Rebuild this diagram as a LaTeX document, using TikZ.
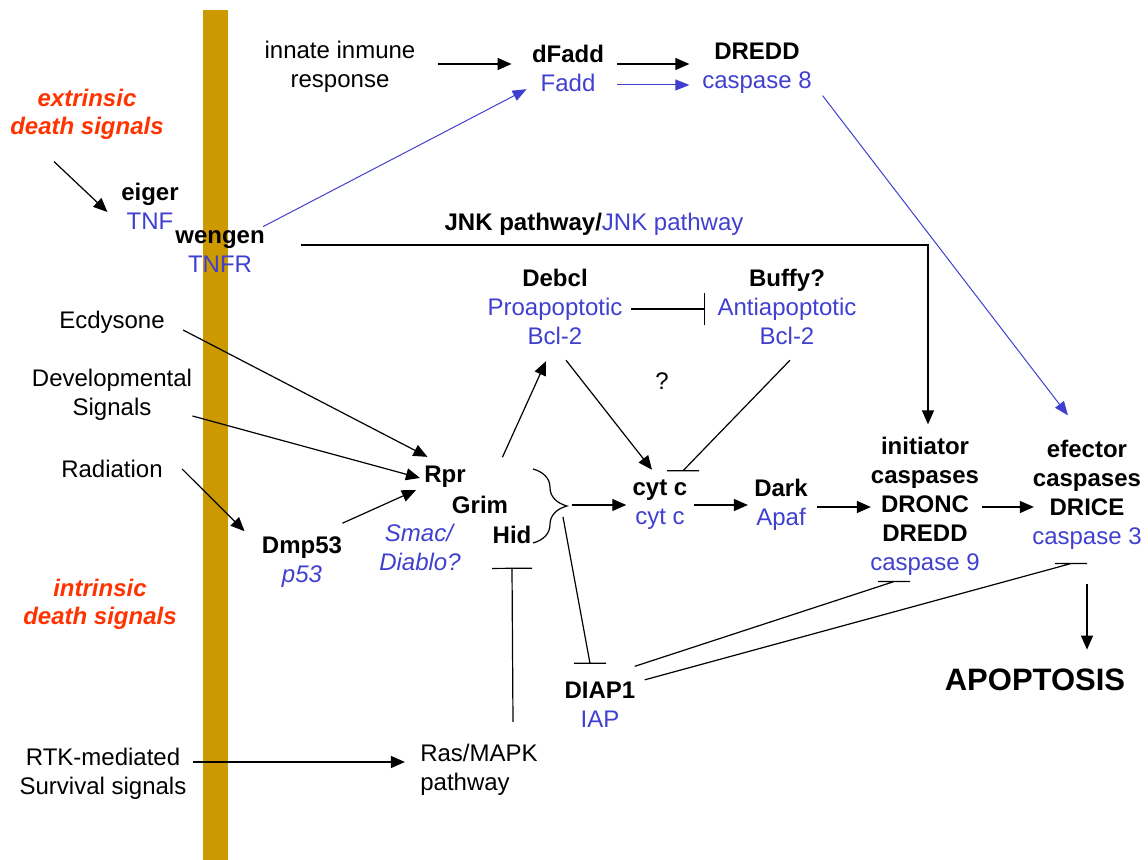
\documentclass[tikz,border=0pt]{standalone}
\usepackage{fontspec}
\setmainfont{Liberation Sans}
\usepackage{xcolor}
\usetikzlibrary{arrows.meta,decorations.pathreplacing}
\definecolor{blu}{RGB}{64,64,208}
\definecolor{sigred}{RGB}{255,51,0}
\definecolor{membrane}{RGB}{204,153,0}
\newcommand{\bt}[1]{\textcolor{blu}{#1}}

\begin{document}
\begin{tikzpicture}[x=0.5pt,y=-0.5pt]
\tikzstyle{lbl}=[align=center, inner sep=1pt, font=\fontsize{12}{14.5}\selectfont]
\tikzstyle{sig}=[align=center, inner sep=1pt, text=sigred, font=\fontsize{12}{14}\selectfont\bfseries\itshape]
\tikzstyle{act}=[line width=0.6pt, -{Triangle[length=7pt,width=6pt]}]
\tikzstyle{bact}=[draw=blu, line width=0.5pt, -{Triangle[length=7pt,width=5.5pt]}]
\tikzstyle{inh}=[line width=0.6pt, -{Bar[width=16pt]}]
\tikzstyle{inhln}=[line width=0.6pt]
\useasboundingbox (0,0) rectangle (1148,860);
% membrane
\fill[membrane] (203,10) rectangle (228,860);

\node[sig] (extr) at (87,114) {extrinsic\\death signals};
\node[sig] (intr) at (100,604) {intrinsic\\death signals};

\node[lbl] (eiger) at (150,206) {\textbf{eiger}\\\bt{TNF}};
\node[lbl] (wengen) at (220,252) {\textbf{wengen}\\\bt{TNFR}};
\node[lbl] (innate) at (340,67) {innate inmune\\response};
\node[lbl] (dfadd) at (568,68) {\textbf{dFadd}\\\bt{Fadd}};
\node[lbl] (dredd) at (757,68) {\textbf{DREDD}\\\bt{caspase 8}};
\node[lbl] (jnk) at (594,224) {\textbf{JNK pathway/}\bt{JNK pathway}};

\node[lbl] (ecdysone) at (112,322) {Ecdysone};
\node[lbl] (develop) at (112,395) {Developmental\\Signals};
\node[lbl] (radiation) at (112,469) {Radiation};
\node[lbl] (dmp53) at (302,562) {\textbf{Dmp53}\\\bt{\textit{p53}}};
\node[lbl] (rpr) at (445,477) {\textbf{Rpr}};
\node[lbl] (grim) at (480,505) {\textbf{Grim}};
\node[lbl] (hid) at (512,535) {\textbf{Hid}};
\node[lbl] (smac) at (420,547) {\bt{\textit{Smac/}}\\\bt{\textit{Diablo?}}};

\node[lbl] (debcl) at (555,307) {\textbf{Debcl}\\\bt{Proapoptotic}\\\bt{Bcl-2}};
\node[lbl] (buffy) at (787,307) {\textbf{Buffy?}\\\bt{Antiapoptotic}\\\bt{Bcl-2}};
\node[lbl] (qmark) at (662,381) {?};
\node[lbl] (cytc) at (660,505) {\textbf{cyt c}\\\bt{cyt c}};
\node[lbl] (dark) at (781,505) {\textbf{Dark}\\\bt{Apaf}};
\node[lbl] (init) at (925,506) {\textbf{initiator}\\\textbf{caspases}\\\textbf{DRONC}\\\textbf{DREDD}\\\bt{caspase 9}};
\node[lbl] (efec) at (1087,495) {\textbf{efector}\\\textbf{caspases}\\\textbf{DRICE}\\\bt{caspase 3}};
\node[lbl, font=\fontsize{15.5}{18}\selectfont\bfseries] (apop) at (1035,680) {APOPTOSIS};
\node[lbl] (diap1) at (600,705) {\textbf{DIAP1}\\\bt{IAP}};

\node[lbl] (rtk) at (103,774) {RTK-mediated\\Survival signals};
\node[lbl, align=left] (rasmapk) at (479,770) {Ras/MAPK\\pathway};

% Rpr/Grim/Hid brace
\draw[line width=0.6pt, decorate, decoration={brace, amplitude=17pt}] (533,469) -- (533,543);
\coordinate (tip) at (572,505);

% extrinsic
\draw[act] ([xshift=-16.5pt,yshift=-10pt]extr.south) -- ([xshift=-5.75pt,yshift=-3pt]eiger.west);
\draw[bact] ([xshift=-2pt,yshift=1pt]wengen.north east) -- ([xshift=-1.5pt,yshift=2.25pt]dfadd.south west);
\draw[act] ([xshift=10pt,yshift=1.5pt]innate.east) -- ([xshift=-9pt,yshift=2pt]dfadd.west);
\draw[act] ([xshift=5.5pt,yshift=2pt]dfadd.east) -- ([xshift=-5.25pt,yshift=2pt]dredd.west);
\draw[bact] ([xshift=5.5pt,yshift=-8.5pt]dfadd.east) -- ([xshift=-5.25pt,yshift=-8.5pt]dredd.west);
\draw[bact] ([xshift=4.25pt]dredd.south east) -- ([xshift=-9.5pt,yshift=11.25pt]efec.north);
\draw[act] ([xshift=17pt,yshift=3.5pt]wengen.east) -| ([xshift=1.5pt,yshift=5pt]init.north);

% intrinsic
\draw[act] ([xshift=8pt,yshift=-4pt]ecdysone.east) -- ([xshift=2.75pt,yshift=3.5pt]rpr.north west);
\draw[act] ([xshift=-1pt,yshift=-10.5pt]develop.east) -- ([xshift=-1pt,yshift=-0.5pt]rpr.west);
\draw[act] ([xshift=8.5pt]radiation.east) -- ([xshift=-7.5pt,yshift=1.5pt]dmp53.north west);
\draw[act] ([xshift=-1pt,yshift=5.5pt]dmp53.north east) -- ([xshift=-3pt]rpr.south west);

% Bcl-2 family
\draw[act] ([xshift=-4pt,yshift=18.25pt]grim.north east) -- ([xshift=-4.5pt,yshift=-7pt]debcl.south);
\draw[act] ([xshift=5.5pt,yshift=-6.5pt]debcl.south) -- ([xshift=-4pt,yshift=4pt]cytc.north);
\draw[inh] ([xshift=3pt,yshift=-1pt]debcl.east) -- ([xshift=-5pt,yshift=-1pt]buffy.west);
\draw[inhln] ([xshift=1.5pt,yshift=-6.5pt]buffy.south) -- ([xshift=11.5pt,yshift=3.5pt]cytc.north) +(-16,0) -- +(16,0);

% caspase cascade
\draw[act] (tip) -- ([xshift=-2pt]cytc.west);
\draw[act] ([xshift=2pt]cytc.east) -- ([xshift=-2pt]dark.west);
\draw[act] ([xshift=3.5pt,yshift=-1pt]dark.east) -- ([xshift=1.5pt,yshift=-0.5pt]init.west);
\draw[act] ([yshift=-0.5pt]init.east) -- ([xshift=2pt,yshift=-6pt]efec.west);
\draw[act, shorten <=16pt, shorten >=8.5pt] (efec.south) -- (efec.south |- apop.north);

% DIAP1
\draw[inhln] ([xshift=-4.5pt,yshift=-6pt]tip) -- ([xshift=-5pt,yshift=8.25pt]diap1.north) +(-16,0) -- +(16,0);
\draw[inhln] ([xshift=-1.5pt,yshift=6.75pt]diap1.north east) -- ([xshift=-15.5pt,yshift=-2pt]init.south) +(-16,0) -- +(16,0);
\draw[inhln] ([xshift=3.5pt]diap1.north east) -- ([xshift=-8pt,yshift=-5.75pt]efec.south) +(-16,0) -- +(16,0);

% survival
\draw[act] ([xshift=2.25pt,yshift=6pt]rtk.east) -- ([xshift=-6.5pt,yshift=4pt]rasmapk.west);
\draw[line width=0.6pt, -{Bar[width=20pt]}] ([xshift=17pt,yshift=10pt]rasmapk.north) -- ([yshift=-10.75pt]hid.south);
\end{tikzpicture}
\end{document}
